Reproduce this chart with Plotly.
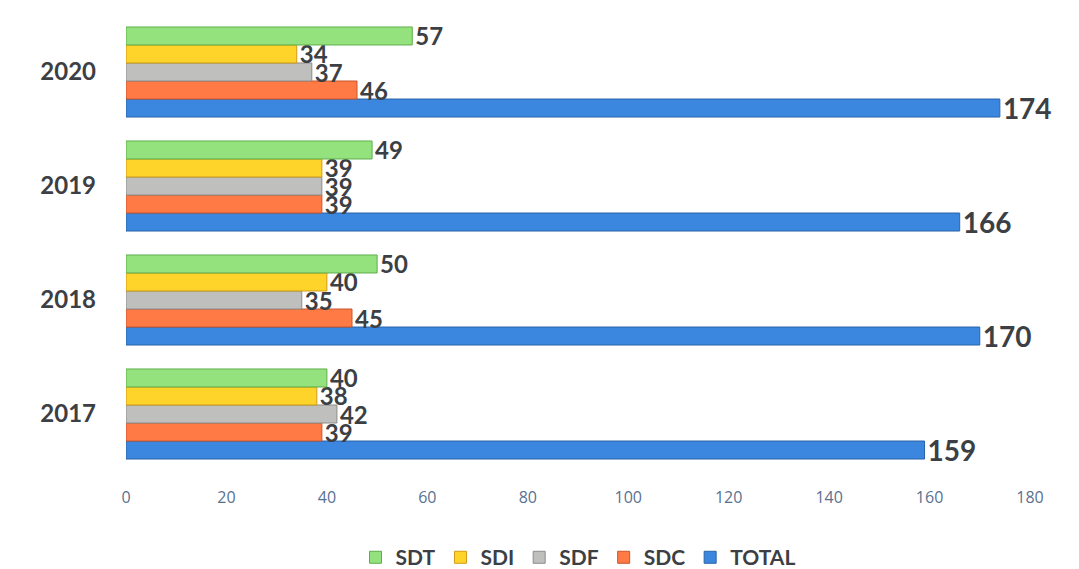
import plotly.graph_objects as go

years = ["2017", "2018", "2019", "2020"]
sdt = [40, 50, 49, 57]
sdi = [38, 40, 39, 34]
sdf = [42, 35, 39, 37]
sdc = [39, 45, 39, 46]
total = [159, 170, 166, 174]
x_ticks = [0, 20, 40, 60, 80, 100, 120, 140, 160, 180]

series = [
    ("TOTAL", total, "#3b86de", "#2a64a8", 28),
    ("SDC", sdc, "#ff7a45", "#c9552a", 24),
    ("SDF", sdf, "#bfc0bd", "#8c8d8a", 24),
    ("SDI", sdi, "#ffd42a", "#d29a16", 24),
    ("SDT", sdt, "#93e27d", "#5fae4c", 24),
]

fig = go.Figure()
for name, vals, col, edge, fs in series:
    fig.add_trace(go.Bar(
        y=years, x=vals, name=name, orientation="h",
        marker=dict(color=col, line=dict(color=edge, width=1)),
        text=[str(v) for v in vals], textposition="outside",
        constraintext="none",
        textfont=dict(family="Lato", size=fs, color="#3c3f44", weight="bold"),
        cliponaxis=False,
    ))

fig.update_layout(
    barmode="group", bargap=0.21, bargroupgap=0,
    width=1071, height=561,
    margin=dict(l=118, r=49, t=7, b=98, autoexpand=False),
    plot_bgcolor="white", paper_bgcolor="white",
    font=dict(family="Lato"),
    legend=dict(orientation="h", traceorder="reversed", x=0.5, xanchor="center",
                y=-0.145, yanchor="top",
                font=dict(family="Lato", size=21, color="#3c3f44", weight="bold"),
                itemwidth=30),
    xaxis=dict(range=[0, 180], tickvals=x_ticks, showgrid=False, zeroline=False,
               showline=False, ticks="", ticklabelstandoff=15, automargin=False,
               tickfont=dict(family="Open Sans", size=16, color="#5a7190")),
    yaxis=dict(showgrid=False, zeroline=False, showline=False, ticks="",
               ticklabelstandoff=29, automargin=False,
               tickfont=dict(family="Lato", size=24, color="#3c3f44", weight="bold")),
)

fig.write_html("out.html")
